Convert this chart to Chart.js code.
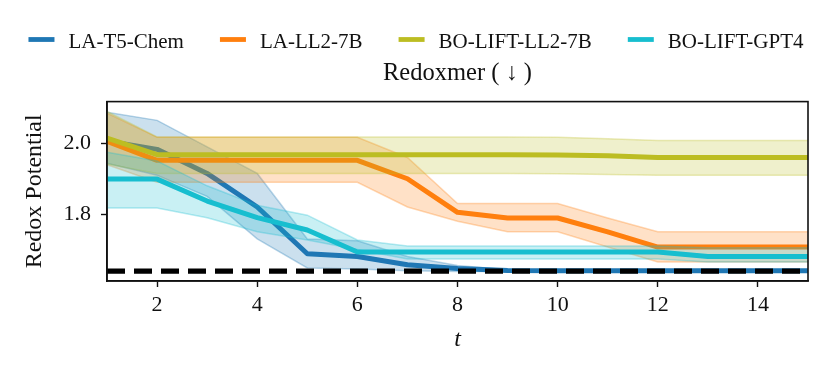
<!DOCTYPE html>
<html>
<head>
<meta charset="utf-8">
<script src="https://cdn.jsdelivr.net/npm/chart.js@4/dist/chart.umd.min.js"></script>
<style>
html,body{margin:0;padding:0;background:#fff;}
canvas{display:block;}
</style>
</head>
<body>
<canvas id="c" width="832" height="379"></canvas>
<script>
const steps = [1,2,3,4,5,6,7,8,9,10,11,12,13,14,15];
const xTickValues = [2,4,6,8,10,12,14];
const yTickValues = [1.8, 2.0];
const yTickLabels = ["1.8", "2.0"];
const seriesNames = ["LA-T5-Chem", "LA-LL2-7B", "BO-LIFT-LL2-7B", "BO-LIFT-GPT4"];

const t5Mean  = [2.007,1.983,1.915,1.820,1.688,1.680,1.657,1.646,1.641,1.640,1.640,1.640,1.640,1.640,1.640];
const t5Upper = [2.088,2.065,1.990,1.915,1.730,1.725,1.680,1.655,1.643,1.641,1.641,1.641,1.641,1.641,1.641];
const t5Lower = [1.944,1.910,1.850,1.730,1.648,1.645,1.640,1.638,1.638,1.638,1.638,1.638,1.638,1.638,1.638];

const ll2Mean  = [2.006,1.952,1.952,1.952,1.952,1.952,1.900,1.805,1.789,1.789,1.750,1.707,1.707,1.707,1.707];
const ll2Upper = [2.085,2.017,2.017,2.017,2.017,2.017,1.960,1.830,1.830,1.830,1.789,1.750,1.750,1.750,1.750];
const ll2Lower = [1.940,1.890,1.890,1.890,1.890,1.890,1.820,1.780,1.750,1.750,1.707,1.665,1.665,1.665,1.665];

const boLlMean  = [2.015,1.968,1.968,1.968,1.968,1.968,1.968,1.968,1.968,1.967,1.965,1.960,1.960,1.960,1.960];
const boLlUpper = [2.090,2.018,2.018,2.018,2.018,2.018,2.018,2.018,2.018,2.017,2.013,2.008,2.008,2.008,2.008];
const boLlLower = [1.942,1.915,1.915,1.915,1.915,1.915,1.915,1.915,1.915,1.914,1.912,1.910,1.910,1.910,1.910];

const gptMean  = [1.899,1.899,1.837,1.790,1.755,1.693,1.693,1.693,1.693,1.693,1.693,1.693,1.680,1.680,1.680];
const gptUpper = [1.975,1.950,1.880,1.825,1.797,1.727,1.710,1.710,1.710,1.710,1.710,1.710,1.705,1.705,1.705];
const gptLower = [1.817,1.817,1.790,1.750,1.727,1.700,1.673,1.673,1.673,1.673,1.673,1.673,1.665,1.665,1.665];

const bestValue = 1.639;

const colors = ["31,119,180", "255,127,14", "188,189,34", "23,190,207"];
const means = [t5Mean, ll2Mean, boLlMean, gptMean];
const uppers = [t5Upper, ll2Upper, boLlUpper, gptUpper];
const lowers = [t5Lower, ll2Lower, boLlLower, gptLower];

const pts = arr => arr.map((v,i)=>({x: steps[i], y: v}));

const datasets = [];
let ord = 20;
for (let s = 0; s < 4; s++) {
  const c = colors[s];
  const bandOrder = ord--;
  datasets.push({
    label: "_u" + s, data: pts(uppers[s]), fill: "+1",
    backgroundColor: `rgba(${c},0.23)`, borderColor: `rgba(${c},0.3)`,
    borderWidth: 1.5, pointRadius: 0, tension: 0, order: bandOrder, isBand: true
  });
  datasets.push({
    label: "_l" + s, data: pts(lowers[s]), fill: false,
    borderColor: `rgba(${c},0.3)`, borderWidth: 1.5, pointRadius: 0, tension: 0,
    order: bandOrder, isBand: true
  });
  datasets.push({
    label: seriesNames[s], data: pts(means[s]), fill: false,
    borderColor: `rgb(${c})`, backgroundColor: `rgb(${c})`, borderWidth: 5,
    pointRadius: 0, tension: 0, order: ord--, borderJoinStyle: "round"
  });
}
datasets.push({
  label: "_best", data: [{x: steps[0], y: bestValue}, {x: steps[steps.length-1], y: bestValue}],
  fill: false, borderColor: "#000", borderWidth: 5.2, borderDash: [18, 9],
  borderCapStyle: "butt", pointRadius: 0, order: 0, isBand: true
});

const serif = "'Liberation Serif', 'DejaVu Serif', serif";

const framePlugin = {
  id: "frame",
  afterDraw(chart) {
    const {ctx, chartArea: a} = chart;
    ctx.save();
    ctx.strokeStyle = "#111";
    ctx.lineWidth = 1.6;
    ctx.strokeRect(a.left, a.top, a.right - a.left, a.bottom - a.top);
    ctx.restore();
  }
};

const legendPlugin = {
  id: "customLegend",
  afterDraw(chart) {
    const ctx = chart.ctx;
    const items = chart.data.datasets.filter(d => !d.isBand);
    ctx.save();
    ctx.font = "21px " + serif;
    const handle = 26, gap = 14, spacing = 36;
    const widths = items.map(d => ctx.measureText(d.label).width);
    const total = widths.reduce((a,b)=>a+b,0) + items.length*(handle+gap) + (items.length-1)*spacing;
    let x = (chart.width - total)/2;
    const ty = 42, hy = 39.5;
    items.forEach((d, i) => {
      ctx.fillStyle = d.borderColor;
      ctx.fillRect(x, hy - 2.4, handle, 4.8);
      x += handle + gap;
      ctx.fillStyle = "#111";
      ctx.textBaseline = "middle";
      ctx.textAlign = "left";
      ctx.fillText(d.label, x, ty);
      x += widths[i] + spacing;
    });
    ctx.restore();
  }
};

new Chart(document.getElementById("c"), {
  type: "line",
  data: { datasets },
  plugins: [framePlugin, legendPlugin],
  options: {
    responsive: false,
    animation: false,
    devicePixelRatio: 1,
    layout: { padding: { top: 58.6, right: 24, bottom: 0, left: 0 } },
    plugins: {
      legend: { display: false },
      tooltip: { enabled: false },
      title: {
        display: true, fullSize: false, text: "Redoxmer ( \u2193 )", color: "#111",
        font: { family: serif, size: 24.5, weight: "normal" },
        padding: { top: 0, bottom: 13.6 }
      },
      filler: { propagate: false }
    },
    scales: {
      x: {
        type: "linear", min: steps[0], max: steps[steps.length-1],
        afterBuildTicks: s => { s.ticks = xTickValues.map(v => ({value: v})); },
        afterFit: s => { s.height = 98; },
        ticks: { color: "#111", font: { family: serif, size: 22 }, padding: 5, maxRotation: 0,
                 callback: v => String(v) },
        grid: { drawOnChartArea: false, color: "#111", tickLength: 6, tickWidth: 1.4 },
        border: { display: true, color: "#111", width: 1.6 },
        title: { display: true, text: "t", color: "#111",
                 font: { family: serif, size: 24, style: "italic" }, padding: { top: 0, bottom: 24.6 } }
      },
      y: {
        type: "linear", min: 1.611, max: 2.118,
        afterBuildTicks: s => { s.ticks = yTickValues.map(v => ({value: v})); },
        afterFit: s => { s.width = 107; },
        ticks: { color: "#111", font: { family: serif, size: 22 }, padding: 10,
                 callback: (v) => { const i = yTickValues.indexOf(v); return i >= 0 ? yTickLabels[i] : ""; } },
        grid: { drawOnChartArea: false, color: "#111", tickLength: 6, tickWidth: 1.4 },
        border: { display: true, color: "#111", width: 1.6 },
        title: { display: true, text: "Redox Potential", color: "#111",
                 font: { family: serif, size: 24 }, padding: { top: 20, bottom: 0 } }
      }
    }
  }
});
</script>
</body>
</html>
